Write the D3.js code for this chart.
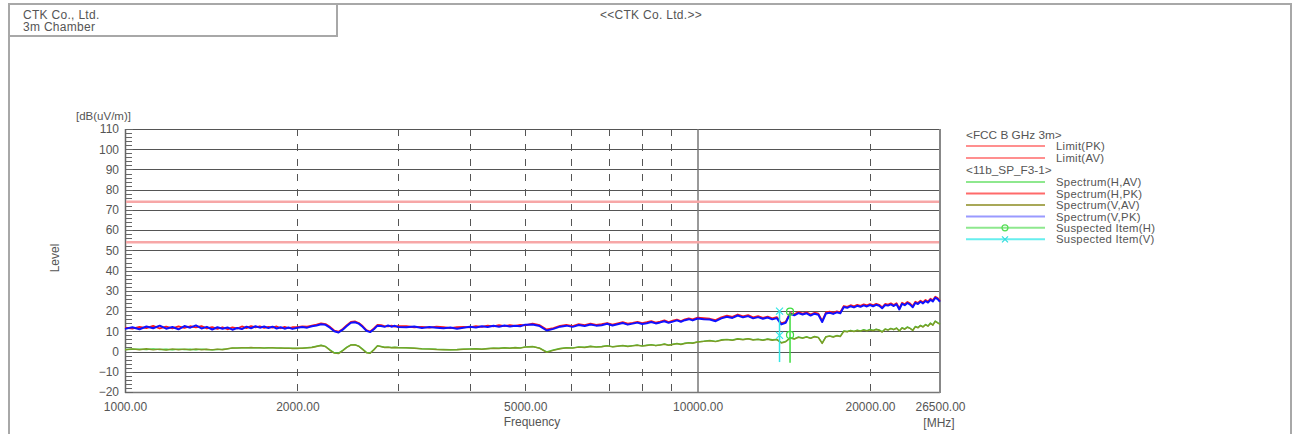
<!DOCTYPE html>
<html>
<head>
<meta charset="utf-8">
<script src="https://cdn.jsdelivr.net/npm/d3@7"></script>
<style>
  html, body { margin: 0; padding: 0; background: #fff; }
  svg { display: block; }
  text { font-family: "Liberation Sans", Arial, sans-serif; fill: #555; }
</style>
</head>
<body>
<svg id="chart" width="1295" height="434"></svg>
<script>
// ---------------- DATA ----------------
const headerLines = ["CTK Co., Ltd.", "3m Chamber"];
const chartTitle = "<<CTK Co. Ltd.>>";
const yUnit = "[dB(uV/m)]";
const yTitle = "Level";
const xTitle = "Frequency";
const xUnit = "[MHz]";

const yTicks = [-20, -10, 0, 10, 20, 30, 40, 50, 60, 70, 80, 90, 100, 110];
const xTickLabels = [1000, 2000, 5000, 10000, 20000, 26500];
const xGridDashed = [2000, 3000, 4000, 5000, 6000, 7000, 8000, 9000, 20000];
const xGridSolid = [10000];

const limitNames = ["Limit(PK)", "Limit(AV)"];
const limitValues = [74, 54];

const freqMHz = [
  1000,1030,1060,1090,1120,1150,1180,1210,1240,1270,1300,1330,1360,1390,1420,1450,1480,1510,1540,1570,1600,1630,1660,1690,1720,1750,1780,1810,1840,1870,1900,1930,1960,2000,
  2040,2080,2120,2160,2200,2240,2280,2320,2360,2400,2440,2480,2520,2560,2600,2640,2680,2720,2760,2800,2840,2880,2920,2960,3000,
  3100,3200,3300,3400,3500,3600,3700,3800,3900,4000,4100,4200,4300,4400,4500,4600,4700,4800,4900,5000,
  5150,5300,5450,5600,5750,5900,6050,6200,6350,6500,6650,6800,6950,7100,7250,7400,7550,7700,7850,8000,8150,8300,8450,8600,8750,8900,9050,9200,9350,9500,9650,9800,10000,
  10250,10500,10750,11000,11250,11500,11750,12000,12250,12500,12750,13000,13250,13500,13750,14000,14250,14500,14750,15000,15250,15500,15750,16000,16250,16500,16750,17000,17250,17500,17750,18000,18250,18500,18750,19000,19250,19500,19750,20000,20250,20500,20750,21000,21250,21500,21750,22000,22250,22500,22750,23000,23250,23500,23750,24000,24250,24500,24750,25000,25250,25500,25750,26000,26250,26500
];

const specH_PK = [
  11.8,11.3,12.2,11.6,12.7,11.4,12.3,11.5,12.4,11.7,12.5,11.9,12.6,11.4,12.1,11.2,12.0,11.0,11.9,11.4,12.4,11.6,12.6,11.9,12.5,11.7,12.2,11.8,12.4,11.5,12.2,11.6,12.0,12.1,
  12.4,12.3,12.8,13.3,13.9,13.6,12.2,10.4,9.8,11.2,13.0,14.6,14.9,14.1,12.6,10.6,9.9,11.4,13.2,13.0,12.6,12.4,12.8,12.3,12.6,
  12.5,12.0,12.2,11.8,12.3,12.0,11.6,12.1,12.2,11.9,12.5,12.2,12.8,12.4,13.0,12.6,13.1,12.7,13.2,12.9,
  13.8,13.0,10.9,11.6,12.7,13.2,12.6,13.5,13.0,13.8,13.2,13.5,14.1,13.3,13.9,14.5,13.8,14.2,14.7,14.1,14.5,15.0,14.3,14.8,15.4,14.6,15.3,15.8,15.1,15.9,16.4,15.9,16.8,
  16.5,16.2,15.5,16.9,17.7,17.1,18.3,17.4,18.0,16.9,17.5,16.7,17.3,16.4,17.0,13.9,14.7,19.1,18.4,19.5,18.8,19.4,18.3,19.2,18.7,15.1,19.3,19.7,19.1,19.9,19.4,22.5,22.1,22.9,22.3,23.1,22.6,23.3,22.8,23.5,22.9,23.6,23.1,21.9,23.5,23.2,23.8,23.0,23.9,21.3,24.1,23.4,24.5,23.7,22.4,24.6,24.0,25.1,24.3,25.5,24.7,26.1,25.3,27.1,26.4,25.1
];

const specV_PK = [
  11.2,12.0,11.0,12.4,11.5,12.8,11.3,12.1,11.0,12.6,11.8,12.9,11.4,12.2,10.9,12.0,11.3,11.9,10.8,11.6,11.1,12.3,11.5,12.5,11.8,12.4,11.6,12.3,11.4,12.0,11.3,11.9,11.2,11.8,
  12.1,11.8,12.5,12.9,13.5,13.2,11.8,10.0,9.4,10.8,12.6,14.2,14.5,13.8,12.2,10.3,9.6,11.0,12.8,12.6,12.2,12.9,12.3,12.7,12.1,
  12.0,12.4,11.6,12.1,11.8,11.5,11.9,11.3,11.8,12.2,11.9,12.5,12.1,12.7,12.3,12.9,12.4,12.8,12.5,13.3,
  13.4,12.6,10.4,11.2,12.3,12.8,12.2,13.1,12.6,13.4,12.8,13.0,13.7,12.9,13.5,14.1,13.3,13.8,14.3,13.6,14.0,14.6,13.9,14.4,15.0,14.2,14.8,15.4,14.7,15.5,16.0,15.4,16.3,
  16.0,15.8,15.0,16.4,17.2,16.6,17.8,16.9,17.5,16.4,17.0,16.2,16.8,15.9,16.5,13.4,14.2,18.6,17.9,19.0,18.3,18.9,17.8,18.7,18.2,14.6,18.8,19.2,18.6,19.4,18.9,22.0,21.6,22.4,21.8,22.6,22.1,22.8,22.3,23.0,22.4,23.1,22.6,21.4,23.0,22.7,23.3,22.5,23.4,20.8,23.6,22.9,24.0,23.2,21.9,24.1,23.5,24.6,23.8,25.0,24.2,25.6,24.8,26.6,25.9,24.6
];

const specH_AV = [
  1.0,1.1,1.2,1.0,1.3,1.0,1.1,0.9,1.2,1.0,1.1,0.9,1.2,1.0,0.9,1.0,1.1,1.3,1.7,1.8,1.8,1.9,1.9,1.9,1.8,1.8,1.9,1.8,1.8,1.7,1.7,1.6,1.6,1.5,
  1.7,1.9,2.1,2.6,3.1,2.5,0.8,-0.6,-0.8,0.6,2.2,3.3,3.4,2.7,1.2,-0.4,-0.7,1.0,2.9,2.5,2.1,2.2,2.0,2.1,2.0,
  1.9,1.7,1.4,1.3,1.1,1.0,0.9,1.0,1.2,1.3,1.4,1.2,1.5,1.7,1.6,1.9,1.7,2.0,1.8,2.3,
  2.5,1.7,-0.2,0.8,1.5,1.9,1.8,2.3,2.1,2.6,2.3,2.5,2.9,2.4,2.7,3.0,2.6,2.9,3.2,2.8,3.1,3.4,3.0,3.3,3.7,3.2,3.6,4.0,3.6,4.1,4.4,4.2,4.8,
  5.1,5.5,5.0,5.8,6.0,5.7,6.3,6.0,6.4,5.9,6.1,5.7,6.2,5.8,6.0,4.4,5.0,6.8,6.3,7.2,6.7,7.3,6.6,7.5,7.0,4.2,7.4,7.7,7.3,7.9,7.6,10.2,9.9,10.5,10.0,10.6,10.2,10.8,10.3,10.9,10.5,11.0,10.7,9.8,11.2,10.7,11.5,10.9,11.7,10.3,11.8,11.2,12.2,11.5,10.6,12.4,11.9,13.0,12.3,13.4,12.7,14.1,13.2,15.1,14.3,13.6
];

const specV_AV = [
  0.8,1.3,0.9,1.4,0.8,1.2,0.7,1.3,0.9,1.2,0.8,1.3,0.9,1.1,0.8,1.2,0.9,1.4,1.8,1.7,1.9,1.8,2.0,1.8,1.9,1.7,1.8,1.9,1.7,1.8,1.6,1.7,1.5,1.6,
  1.6,1.8,2.0,2.5,3.0,2.4,0.6,-0.8,-1.0,0.4,2.0,3.2,3.3,2.6,1.0,-0.6,-0.9,0.8,2.8,2.4,2.0,2.1,1.9,2.0,1.9,
  1.8,1.6,1.3,1.2,1.0,0.9,0.8,0.9,1.1,1.2,1.3,1.1,1.4,1.6,1.5,1.8,1.6,1.9,1.7,2.2,
  2.4,1.6,-0.4,0.6,1.4,1.8,1.7,2.2,2.0,2.5,2.2,2.4,2.8,2.3,2.6,2.9,2.5,2.8,3.1,2.7,3.0,3.3,2.9,3.2,3.6,3.1,3.5,3.9,3.5,4.0,4.3,4.1,4.7,
  5.0,5.3,4.9,5.6,5.9,5.5,6.2,5.8,6.3,5.7,6.0,5.5,6.1,5.6,5.9,4.2,4.8,6.6,6.2,7.0,6.6,7.1,6.5,7.3,6.9,4.0,7.2,7.6,7.1,7.8,7.4,10.0,9.8,10.3,9.9,10.4,10.1,10.6,10.2,10.7,10.3,10.9,10.5,9.6,11.0,10.6,11.3,10.8,11.5,10.1,11.6,11.0,12.0,11.4,10.4,12.2,11.7,12.8,12.1,13.2,12.5,13.9,13.0,14.9,14.1,13.4
];

// suspected items: frequency, peak level, average level, bottom of marker line
const suspectedNames = ["Suspected Item(H)", "Suspected Item(V)"];
const suspectedFreq = [14500, 13900];
const suspectedPK = [19.7, 20.0];
const suspectedAV = [8.2, 8.0];
const suspectedBottom = [-5.5, -5.2];

const legendGroups = ["<FCC B GHz 3m>", "<11b_SP_F3-1>"];
const spectrumNames = ["Spectrum(H,AV)", "Spectrum(H,PK)", "Spectrum(V,AV)", "Spectrum(V,PK)"];

// ---------------- DRAW ----------------
const FONT = "Liberation Sans, Arial, sans-serif";
const svg = d3.select("#chart");
svg.append("rect").attr("width", 1295).attr("height", 434).attr("fill", "#fff");

// outer frame
const frame = svg.append("g").attr("stroke", "#a8a8a8").attr("stroke-width", 2).attr("fill", "none");
frame.append("path").attr("d", "M9,434 V4 H1291 V434");
frame.append("path").attr("d", "M9,36 H337 V4");

svg.append("text").attr("x", 23).attr("y", 19).attr("font-size", 12).attr("letter-spacing", 0.3).text(headerLines[0]);
svg.append("text").attr("x", 23).attr("y", 31).attr("font-size", 12).attr("letter-spacing", 0.3).text(headerLines[1]);
svg.append("text").attr("x", 651).attr("y", 19).attr("font-size", 12).attr("letter-spacing", 0.3).attr("text-anchor", "middle").text(chartTitle);

const x = d3.scaleLog().domain([1000, 26500]).range([125, 940]);
const y = d3.scaleLinear().domain([-20, 110]).range([392, 129]);

// horizontal grid
svg.append("g").selectAll("line").data(yTicks).join("line")
  .attr("x1", 125).attr("x2", 940)
  .attr("y1", d => Math.round(y(d)) + 0.5).attr("y2", d => Math.round(y(d)) + 0.5)
  .attr("stroke", d => d === -20 ? "#777" : "#555").attr("stroke-width", d => d === -20 ? 1.5 : 1);

// vertical dashed grid
svg.append("g").selectAll("line").data(xGridDashed).join("line")
  .attr("x1", d => Math.round(x(d)) + 0.5).attr("x2", d => Math.round(x(d)) + 0.5)
  .attr("y1", 129).attr("y2", 392)
  .attr("stroke", "#555").attr("stroke-width", 1).attr("stroke-dasharray", "7,8");
svg.append("g").selectAll("line").data(xGridSolid).join("line")
  .attr("x1", d => Math.round(x(d))).attr("x2", d => Math.round(x(d)))
  .attr("y1", 129).attr("y2", 392)
  .attr("stroke", "#777").attr("stroke-width", 1.5);

// left & right borders
svg.append("line").attr("x1", 125.5).attr("x2", 125.5).attr("y1", 129).attr("y2", 393).attr("stroke", "#666").attr("stroke-width", 1.5);
svg.append("line").attr("x1", 940).attr("x2", 940).attr("y1", 129).attr("y2", 393).attr("stroke", "#888").attr("stroke-width", 2);

// minor y ticks every 2
const minor = d3.range(-20, 110.1, 2);
svg.append("g").selectAll("line").data(minor).join("line")
  .attr("x1", 126).attr("x2", d => d % 10 === 0 ? 133 : 132)
  .attr("y1", d => Math.round(y(d)) + 0.5).attr("y2", d => Math.round(y(d)) + 0.5)
  .attr("stroke", "#666").attr("stroke-width", 1);

// axes labels via d3 axes
const yAxis = svg.append("g").attr("transform", "translate(124,0)")
  .call(d3.axisLeft(y).tickValues(yTicks).tickSize(0).tickPadding(5).tickFormat(d => d < 0 ? "\u2212" + Math.abs(d) : d));
yAxis.select(".domain").remove();
yAxis.selectAll("text").attr("font-size", 12).attr("fill", "#555").style("font-family", FONT);

const xAxis = svg.append("g").attr("transform", "translate(0,399)")
  .call(d3.axisBottom(x).tickValues(xTickLabels).tickSize(0).tickPadding(3).tickFormat(d => d.toFixed(2)));
xAxis.select(".domain").remove();
xAxis.selectAll("text").attr("font-size", 12).attr("fill", "#555").style("font-family", FONT);

svg.append("text").attr("x", 76).attr("y", 119.5).attr("font-size", 11.5).text(yUnit);
svg.append("text").attr("transform", "translate(59,258) rotate(-90)").attr("text-anchor", "middle").attr("font-size", 12).text(yTitle);
svg.append("text").attr("x", 532).attr("y", 426).attr("text-anchor", "middle").attr("font-size", 12).text(xTitle);
svg.append("text").attr("x", 939).attr("y", 427).attr("text-anchor", "middle").attr("font-size", 12).text(xUnit);

// limit lines
svg.append("g").selectAll("line").data(limitValues).join("line")
  .attr("x1", 126).attr("x2", 939)
  .attr("y1", d => y(d)).attr("y2", d => y(d))
  .attr("stroke", "#f7a7a7").attr("stroke-width", 2.5);

// spectra
const pts = arr => freqMHz.map((f, i) => [f, arr[i]]);
const line = d3.line().x(d => x(d[0])).y(d => y(d[1]));
const series = [
  { data: specH_AV, color: "#3fcf3f", w: 1.4 },
  { data: specV_AV, color: "#7f9a26", w: 1.4 },
  { data: specH_PK, color: "#ff1a1a", w: 1.8 },
  { data: specV_PK, color: "#1010ff", w: 2.0 }
];
svg.append("g").attr("fill", "none").selectAll("path").data(series).join("path")
  .attr("d", s => line(pts(s.data)))
  .attr("stroke", s => s.color).attr("stroke-width", s => s.w).attr("stroke-linejoin", "round");

// suspected items
const suspColors = ["#3ddc3d", "#33e6e6"];
const sg = svg.append("g");
suspectedFreq.forEach((f, i) => {
  const cx = x(f);
  sg.append("line").attr("x1", cx).attr("x2", cx).attr("y1", y(suspectedPK[i])).attr("y2", y(suspectedBottom[i]))
    .attr("stroke", suspColors[i]).attr("stroke-width", 1.5);
  [suspectedPK[i], suspectedAV[i]].forEach(v => {
    const cy = y(v);
    if (i === 0) {
      sg.append("circle").attr("cx", cx).attr("cy", cy).attr("r", 3.5).attr("fill", "none").attr("stroke", suspColors[i]).attr("stroke-width", 1.2);
    } else {
      sg.append("path").attr("d", `M${cx-3.5},${cy-3.5}L${cx+3.5},${cy+3.5}M${cx-3.5},${cy+3.5}L${cx+3.5},${cy-3.5}`)
        .attr("stroke", suspColors[i]).attr("stroke-width", 1.2);
    }
  });
});

// legend
const lg = svg.append("g");
const lx1 = 966, lx2 = 1045, tx = 1056;
const LFS = 11.3;
lg.append("text").attr("x", lx1).attr("y", 139).attr("font-size", 11.8).text(legendGroups[0]);
const limitRows = [146, 158];
limitRows.forEach((ry, i) => {
  lg.append("line").attr("x1", lx1).attr("x2", lx2).attr("y1", ry).attr("y2", ry).attr("stroke", "#ff6a6a").attr("stroke-width", 1.5);
  lg.append("text").attr("x", tx).attr("y", ry + 4).attr("font-size", LFS).attr("letter-spacing", 0.3).text(limitNames[i]);
});
lg.append("text").attr("x", lx1).attr("y", 174).attr("font-size", 11.8).text(legendGroups[1]);
const specRows = [182, 193.5, 205, 216.5];
const specLegendColors = ["#8ee88e", "#ff6a6a", "#a8a858", "#9a9aff"];
specRows.forEach((ry, i) => {
  lg.append("line").attr("x1", lx1).attr("x2", lx2).attr("y1", ry).attr("y2", ry).attr("stroke", specLegendColors[i]).attr("stroke-width", 2);
  lg.append("text").attr("x", tx).attr("y", ry + 4).attr("font-size", LFS).attr("letter-spacing", 0.3).text(spectrumNames[i]);
});
const suspRows = [227.8, 239.3];
const suspLegendColors = ["#8ee88e", "#66eeee"];
suspRows.forEach((ry, i) => {
  lg.append("line").attr("x1", lx1).attr("x2", lx2).attr("y1", ry).attr("y2", ry).attr("stroke", suspLegendColors[i]).attr("stroke-width", 2);
  const mx = 1005;
  if (i === 0) {
    lg.append("circle").attr("cx", mx).attr("cy", ry).attr("r", 3).attr("fill", "none").attr("stroke", "#55dd55").attr("stroke-width", 1.2);
  } else {
    lg.append("path").attr("d", `M${mx-3},${ry-3}L${mx+3},${ry+3}M${mx-3},${ry+3}L${mx+3},${ry-3}`).attr("stroke", "#33dddd").attr("stroke-width", 1.2);
  }
  lg.append("text").attr("x", tx).attr("y", ry + 4).attr("font-size", LFS).attr("letter-spacing", 0.3).text(suspectedNames[i]);
});
</script>
</body>
</html>
